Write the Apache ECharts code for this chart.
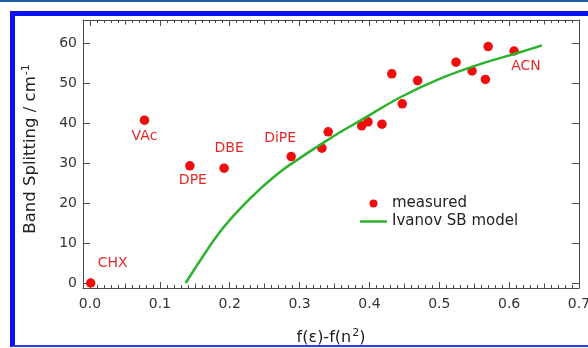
<!DOCTYPE html>
<html>
<head>
<meta charset="utf-8">
<script src="https://cdn.jsdelivr.net/npm/echarts@6/dist/echarts.min.js"></script>
<style>
  html, body { margin: 0; padding: 0; background: #fff; }
  #topline { position: absolute; left: 0; top: 0; width: 588px; height: 2px; background: #1f5c9e; }
  #frame {
    position: absolute; left: 10px; top: 11px; width: 600px; height: 329px;
    border-left: 5px solid #0b12f0; border-top: 5px solid #0b12f0; border-bottom: 2px solid #2a3cf0;
  }
  #chart { position: absolute; left: 0; top: 0; width: 588px; height: 348px; }
</style>
</head>
<body>
<div id="topline"></div>
<div id="frame"></div>
<div id="chart"></div>
<script>
  // measured points
  const sampleNames = ['CHX', 'VAc', 'DPE', 'DBE', 'DiPE', '', '', '', '', '', '', '', '', '', '', '', '', 'ACN']
  const sampleX = [0.001, 0.078, 0.143, 0.192, 0.288, 0.332, 0.341, 0.389, 0.398, 0.418, 0.432, 0.447, 0.469, 0.524, 0.547, 0.566, 0.570, 0.607]
  const sampleY = [0.0, 40.7, 29.3, 28.7, 31.6, 33.7, 37.8, 39.3, 40.3, 39.7, 52.3, 44.8, 50.6, 55.2, 53.0, 50.9, 59.1, 58.0]

  // Ivanov SB model curve
  const modelX = [0.137, 0.158, 0.187, 0.216, 0.244, 0.273, 0.302, 0.330, 0.359, 0.388, 0.445, 0.503, 0.560, 0.618, 0.647]
  const modelY = [0.0, 5.7, 13.0, 18.8, 23.6, 27.9, 31.4, 34.6, 37.8, 40.7, 46.5, 51.2, 54.8, 57.8, 59.4]

  const xTicks = [0, 0.1, 0.2, 0.3, 0.4, 0.5, 0.6, 0.7]
  const yTicks = [0, 10, 20, 30, 40, 50, 60]

  const labelOffsets = {
    CHX: [22, -20],
    VAc: [0, 16],
    DPE: [3, 15],
    DBE: [5, -20],
    DiPE: [-11, -18],
    ACN: [12, 15]
  }

  const font = 'DejaVu Sans'
  const axisColor = '#4a4a4a'
  const textColor = '#333'
  const red = '#f00d0d'
  const green = '#2cb22c'

  const chart = echarts.init(document.getElementById('chart'), null, { renderer: 'canvas' })

  const measured = sampleX.map((x, i) => {
    const name = sampleNames[i]
    const item = { value: [x, sampleY[i]] }
    if (name) {
      item.label = {
        show: true,
        formatter: name,
        position: 'inside',
        offset: labelOffsets[name]
      }
    }
    return item
  })
  const model = modelX.map((x, i) => [x, modelY[i]])

  const line = { show: true, onZero: false, lineStyle: { color: axisColor } }
  const noLine = { show: false, onZero: false }
  const tick = (length) => ({ show: true, inside: true, length: length, lineStyle: { color: axisColor } })

  // grid 0: the data frame (axis starts slightly below 0)
  // grid 1: same box but starting at x=0 / y=0, only used to draw the ticks and tick labels
  const frameX = { type: 'value', gridIndex: 0, min: -0.01, max: 0.7, splitLine: { show: false }, axisTick: { show: false }, axisLabel: { show: false } }
  const frameY = { type: 'value', gridIndex: 0, min: -1.25, max: 65.75, splitLine: { show: false }, axisTick: { show: false }, axisLabel: { show: false } }
  const tickX = (position, interval, length, extra) => Object.assign({
    type: 'value', gridIndex: 1, min: 0, max: 0.7, interval: interval, position: position,
    offset: position === 'bottom' ? 5 : 0,
    splitLine: { show: false }, axisLine: noLine, axisTick: tick(length), axisLabel: { show: false }
  }, extra)
  const tickY = (position, extra) => Object.assign({
    type: 'value', gridIndex: 1, min: 0, max: 65.75, interval: 10, position: position,
    offset: position === 'left' ? 7 : 0,
    splitLine: { show: false }, axisLine: noLine, axisTick: tick(7), axisLabel: { show: false }
  }, extra)

  const xLabels = {
    show: true, customValues: xTicks, formatter: (v) => v.toFixed(1),
    fontFamily: font, fontSize: 14, color: textColor, margin: 9
  }
  const yLabels = {
    show: true, customValues: yTicks,
    fontFamily: font, fontSize: 14, color: textColor, margin: 6
  }

  chart.setOption({
    animation: false,
    grid: [
      { left: 83, right: 9, top: 20, bottom: 60, containLabel: false, outerBoundsMode: 'none' },
      { left: 90, right: 9, top: 20, bottom: 65, containLabel: false, outerBoundsMode: 'none' }
    ],
    legend: {
      orient: 'vertical',
      left: 360,
      top: 196,
      padding: 0,
      itemWidth: 27,
      itemHeight: 8,
      itemGap: 3,
      textStyle: { fontFamily: font, fontSize: 15, color: '#222' },
      data: [
        { name: 'measured', icon: 'circle' },
        { name: 'Ivanov SB model', icon: 'path://M0,0H27V2.5H0Z' }
      ]
    },
    xAxis: [
      Object.assign({}, frameX, {
        position: 'bottom',
        axisLine: line,
        name: 'f(ε)-f(n{sup|2})',
        nameLocation: 'middle',
        nameGap: 40,
        nameTextStyle: {
          fontFamily: font, fontSize: 16, color: '#222',
          rich: { sup: { fontFamily: font, fontSize: 11, color: '#222', padding: [0, 0, 9, 1] } }
        }
      }),
      Object.assign({}, frameX, { position: 'top', axisLine: line }),
      tickX('bottom', 0.1, 6, { axisLabel: xLabels }),
      tickX('bottom', 0.05, 4.5),
      tickX('bottom', 0.01, 3),
      tickX('top', 0.1, 6),
      tickX('top', 0.05, 4.5),
      tickX('top', 0.01, 3)
    ],
    yAxis: [
      Object.assign({}, frameY, {
        position: 'left',
        axisLine: line,
        name: 'Band Splitting / cm{sup|-1}',
        nameLocation: 'middle',
        nameGap: 42,
        nameTextStyle: {
          fontFamily: font, fontSize: 16.5, color: '#222',
          padding: [0, 0, 0, 10],
          rich: { sup: { fontFamily: font, fontSize: 11, color: '#222', padding: [0, 0, 9, 1] } }
        }
      }),
      Object.assign({}, frameY, { position: 'right', axisLine: line }),
      tickY('left', { axisLabel: yLabels }),
      tickY('right')
    ],
    series: [
      {
        name: 'measured',
        type: 'scatter',
        xAxisIndex: 0,
        yAxisIndex: 0,
        data: measured,
        symbol: 'circle',
        symbolSize: 9.5,
        itemStyle: { color: red, opacity: 1 },
        label: { fontFamily: font, fontSize: 14, color: '#e5292b' },
        z: 2
      },
      {
        name: 'Ivanov SB model',
        type: 'line',
        xAxisIndex: 0,
        yAxisIndex: 0,
        data: model,
        smooth: 0.4,
        symbol: 'none',
        lineStyle: { color: green, width: 2.5 },
        itemStyle: { color: green },
        z: 3
      }
    ]
  })
</script>
</body>
</html>
